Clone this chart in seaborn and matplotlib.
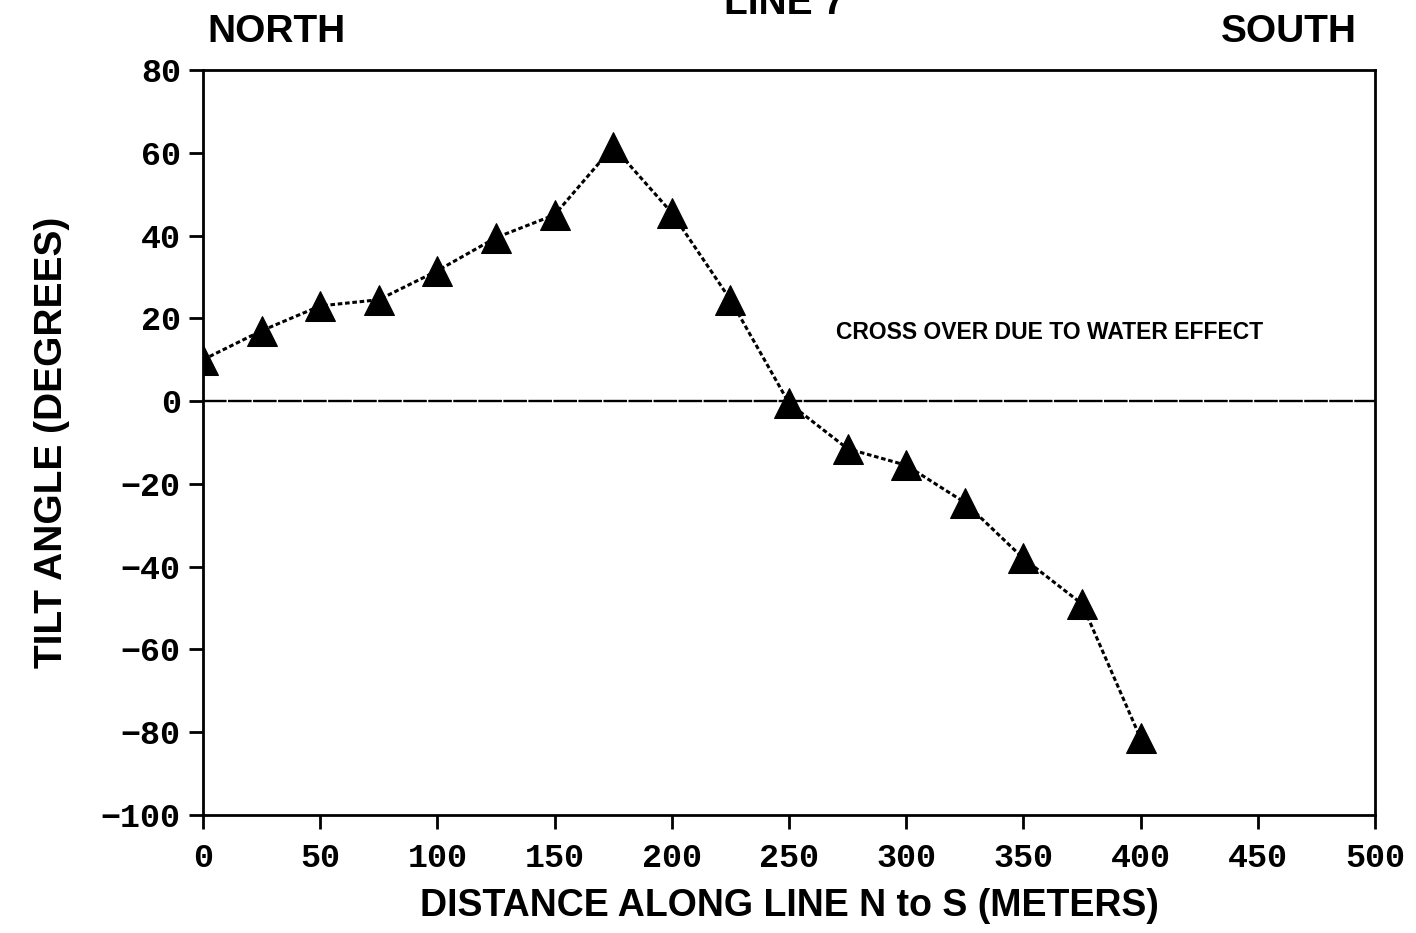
import matplotlib
matplotlib.use("Agg")
import matplotlib.pyplot as plt
import seaborn as sns
import pandas as pd

distance = [0, 25, 50, 75, 100, 125, 150, 175, 200, 225, 250, 275, 300, 325, 350, 375, 400]
tilt = [10, 17, 23, 24.5, 31.5, 39.5, 45, 61.5, 45.5, 24.5, -0.5, -11.5, -15.5, -24.5, -38, -49, -81.5]
x_ticks = [0, 50, 100, 150, 200, 250, 300, 350, 400, 450, 500]
y_ticks = [-100, -80, -60, -40, -20, 0, 20, 40, 60, 80]

df = pd.DataFrame({"distance": distance, "tilt": tilt})

sns.set_style("ticks")
plt.rcParams["text.color"] = "black"
plt.rcParams["axes.labelcolor"] = "black"
plt.rcParams["xtick.color"] = "black"
plt.rcParams["ytick.color"] = "black"
sans = ["Liberation Sans Narrow", "Liberation Sans", "DejaVu Sans"]
mono = ["Liberation Mono", "DejaVu Sans Mono"]

fig = plt.figure(figsize=(14.16, 9.33), dpi=100)
ax = fig.add_axes([203 / 1416, 118 / 933, 1172 / 1416, 745 / 933])

ax.axhline(0, color="black", lw=1.7, linestyle=(0, (10, 0.6)), zorder=1)
sns.lineplot(data=df, x="distance", y="tilt", ax=ax, color="black", lw=2.2,
             linestyle=(0, (1.5, 0.9)), marker="^", markersize=21,
             markeredgecolor="black", markerfacecolor="black", zorder=3)

ax.set_xlim(0, 500)
ax.set_ylim(-100, 80)
ax.set_xticks(x_ticks)
ax.set_yticks(y_ticks)
ax.set_xticklabels([str(v) for v in x_ticks], family=mono, fontweight="bold", fontsize=24, color="black")
ax.set_yticklabels([str(v).replace("-", "\u2212") for v in y_ticks], family=mono, fontweight="bold",
                   fontsize=24, color="black")
ax.tick_params(axis="x", direction="out", length=10, width=2, color="black", pad=10)
ax.tick_params(axis="y", direction="out", length=10, width=2, color="black", pad=6)
for s in ax.spines.values():
    s.set_linewidth(2)
    s.set_color("black")

ax.set_xlabel("DISTANCE ALONG LINE N to S (METERS)", family=sans, fontweight="bold",
              fontsize=27, labelpad=10, color="black")
ax.set_ylabel("TILT ANGLE (DEGREES)", family=sans, fontweight="bold", fontsize=28,
              labelpad=22, color="black")

ax.text(270, 16.5, "CROSS OVER DUE TO WATER EFFECT", family=sans, fontweight="bold",
        fontsize=16.5, va="center", ha="left", color="black")

fig.text(207 / 1416, 1 - 32 / 933, "NORTH", family=sans, fontweight="bold", fontsize=28,
         ha="left", va="center", color="black")
fig.text(1357 / 1416, 1 - 32 / 933, "SOUTH", family=sans, fontweight="bold", fontsize=28,
         ha="right", va="center", color="black")
fig.text(785 / 1416, 1 - 14 / 933, "LINE 7", family=sans, fontweight="bold", fontsize=28,
         ha="center", va="baseline", color="black")

fig.savefig("out.png", dpi=100)
